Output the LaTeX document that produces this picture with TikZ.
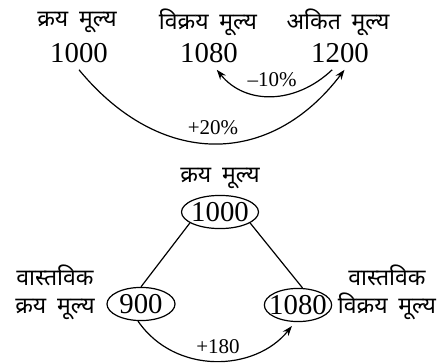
\documentclass[tikz,border=0pt]{standalone}
\usepackage{fontspec}
\setmainfont{Liberation Serif}
\newfontfamily\hindi[Script=Devanagari, WordSpace=1.8]{Noto Sans}
\usetikzlibrary{arrows.meta,shapes.geometric}
\tikzset{
  hinditxt/.style={font=\hindi\fontsize{11.5}{14}\selectfont, align=center},
  pricetxt/.style={font=\fontsize{14.4}{16}\selectfont},
  valoval/.style={
    ellipse, draw, line width=0.6pt, inner xsep=-2.5pt, inner ysep=1pt,
    minimum height=16.5pt, font=\fontsize{14.4}{16}\selectfont
  },
  pctlbl/.style={font=\fontsize{10.5}{12}\selectfont, inner sep=1pt},
  arcarrow/.style={-{Stealth[length=5pt,width=3.6pt]}, line width=0.6pt},
  plainline/.style={line width=0.6pt}
}
\begin{document}
\begin{tikzpicture}[x=0.5pt, y=-0.5pt]
  \useasboundingbox (0,0) rectangle (445,364);

  % Upper chain
  \node[hinditxt] (krt) at (77,22)  {क्रय मूल्य};
  \node[hinditxt] (vkt) at (208,22) {विक्रय मूल्य};
  \node[hinditxt] (akt) at (338,22) {अकित मूल्य};
  \node[pricetxt] (n1000) at (79,53)  {1000};
  \node[pricetxt] (n1080) at (209,53) {1080};
  \node[pricetxt] (n1200) at (340,53) {1200};

  \draw[arcarrow] (n1000.south) .. controls (160,168) and (270,168) .. (n1200.-75);
  \node[pctlbl] (p20) at (213,128) {+20\%};
  \draw[arcarrow] (n1200.-115) .. controls (295,105) and (245,105) .. (n1080.-65);
  \node[pctlbl] (p10) at (272,80) {--10\%};

  % Lower triangle
  \node[hinditxt] (krb) at (220,178) {क्रय मूल्य};
  \node[valoval, minimum width=38.5pt] (b1000) at (220,212) {1000};
  \node[valoval, minimum width=34pt] (b900) at (141,304) {900};
  \node[valoval] (b1080) at (298,305) {1080};
  \node[hinditxt] (vkl) at (55,292) {वास्तविक\\क्रय मूल्य};
  \node[hinditxt] (vvr) at (387,292) {वास्तविक\\विक्रय मूल्य};

  \draw[plainline] (b1000.200) -- (b900.north);
  \draw[plainline] (b1000.-20) -- (b1080.75);
  \draw[arcarrow, shorten >=2.5pt] (b900.-100) .. controls (175,375) and (255,372) .. (b1080.-100);
  \node[pctlbl] (p180) at (218,347) {+180};
\end{tikzpicture}
\end{document}
